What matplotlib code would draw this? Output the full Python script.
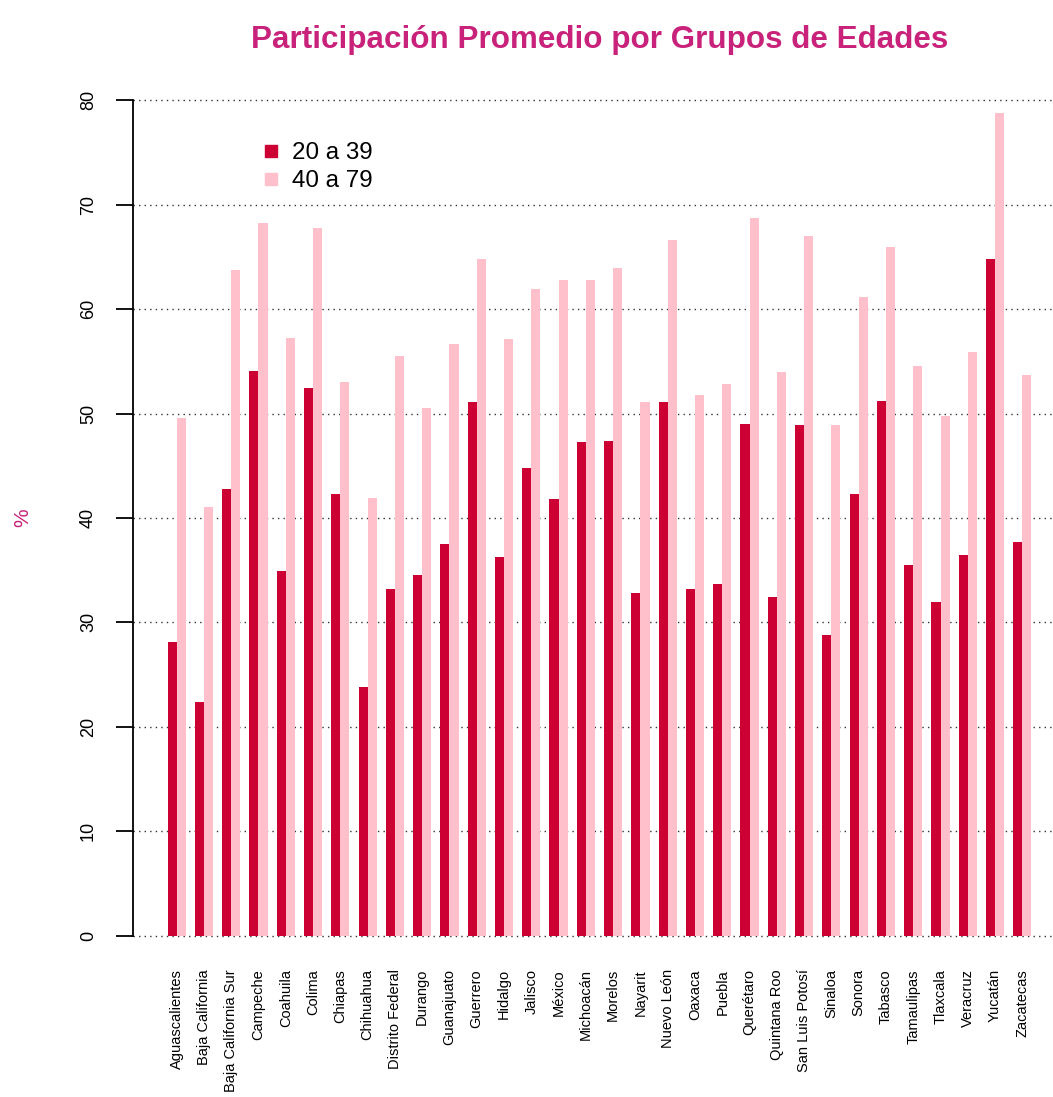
#import libraries
import matplotlib
matplotlib.use("Agg")
import matplotlib.pyplot as plt
from matplotlib.lines import Line2D
import numpy as np

plt.rcParams['font.family'] = ['Liberation Sans', 'DejaVu Sans']

#data
estados = ["Aguascalientes", "Baja California", "Baja California Sur", "Campeche",
           "Coahuila", "Colima", "Chiapas", "Chihuahua", "Distrito Federal",
           "Durango", "Guanajuato", "Guerrero", "Hidalgo", "Jalisco", "México",
           "Michoacán", "Morelos", "Nayarit", "Nuevo León", "Oaxaca", "Puebla",
           "Querétaro", "Quintana Roo", "San Luis Potosí", "Sinaloa", "Sonora",
           "Tabasco", "Tamaulipas", "Tlaxcala", "Veracruz", "Yucatán", "Zacatecas"]
grupos = ["20 a 39", "40 a 79"]
edad_20_39 = [28.1, 22.4, 42.8, 54.1, 34.9, 52.5, 42.3, 23.8, 33.2, 34.5, 37.5,
              51.1, 36.3, 44.8, 41.8, 47.3, 47.4, 32.8, 51.1, 33.2, 33.7, 49.0,
              32.4, 48.9, 28.8, 42.3, 51.2, 35.5, 32.0, 36.5, 64.8, 37.7]
edad_40_79 = [49.6, 41.1, 63.8, 68.3, 57.2, 67.8, 53.0, 41.9, 55.5, 50.5, 56.7,
              64.8, 57.1, 61.9, 62.8, 62.8, 63.9, 51.1, 66.6, 51.8, 52.8, 68.7,
              54.0, 67.0, 48.9, 61.2, 66.0, 54.6, 49.8, 55.9, 78.8, 53.7]
yticks = [0, 10, 20, 30, 40, 50, 60, 70, 80]

#colors
c_dark = "#CC0033"
c_light = "#FFC0CB"
c_title = "#C8227A"

#figure
fig = plt.figure(figsize=(10.53, 10.97), dpi=100)
ax = fig.add_axes([133/1053, 1 - 969/1097, 933/1053, 902/1097])

#bars like R barplot(beside=TRUE)
n = len(estados)
left = 1 + 3*np.arange(n)
ax.bar(left + 0.5, edad_20_39, width=1, color=c_dark, zorder=2)
ax.bar(left + 1.5, edad_40_79, width=1, color=c_light, zorder=2)

#dotted grid
for yv in yticks:
    ax.axhline(yv, color="#333333", linewidth=1, linestyle=(0, (1, 3)), zorder=1)

ax.set_xlim(-2.8, 99.8)
ax.set_ylim(-3.2, 83.2)

#axes
for s in ["top", "right", "bottom"]:
    ax.spines[s].set_visible(False)
ax.spines["left"].set_bounds(0, 80)
ax.spines["left"].set_linewidth(1.3)
ax.set_yticks(yticks)
ax.set_yticklabels([str(v) for v in yticks], rotation=90, va="center", fontsize=13)
ax.tick_params(axis="y", length=12, width=1.3, pad=14)

ax.set_xticks(left + 1)
ax.set_xticklabels(estados, rotation=90, fontsize=10.5)
ax.tick_params(axis="x", length=0, pad=0)

ax.set_ylabel("%", color=c_title, fontsize=15, labelpad=34)
ax.set_title("Participación Promedio por Grupos de Edades", color=c_title,
             fontsize=22.6, fontweight="bold", pad=14)

#legend
handles = [Line2D([], [], marker="s", linestyle="none", color=c_dark, markersize=8),
           Line2D([], [], marker="s", linestyle="none", color=c_light, markersize=8)]
ax.legend(handles, grupos, loc="upper left", bbox_to_anchor=(0.122, 0.93),
          frameon=False, fontsize=17.4, handlelength=1, handletextpad=0.35,
          labelspacing=0.25, borderpad=0)

plt.savefig("out.png", dpi=100)
